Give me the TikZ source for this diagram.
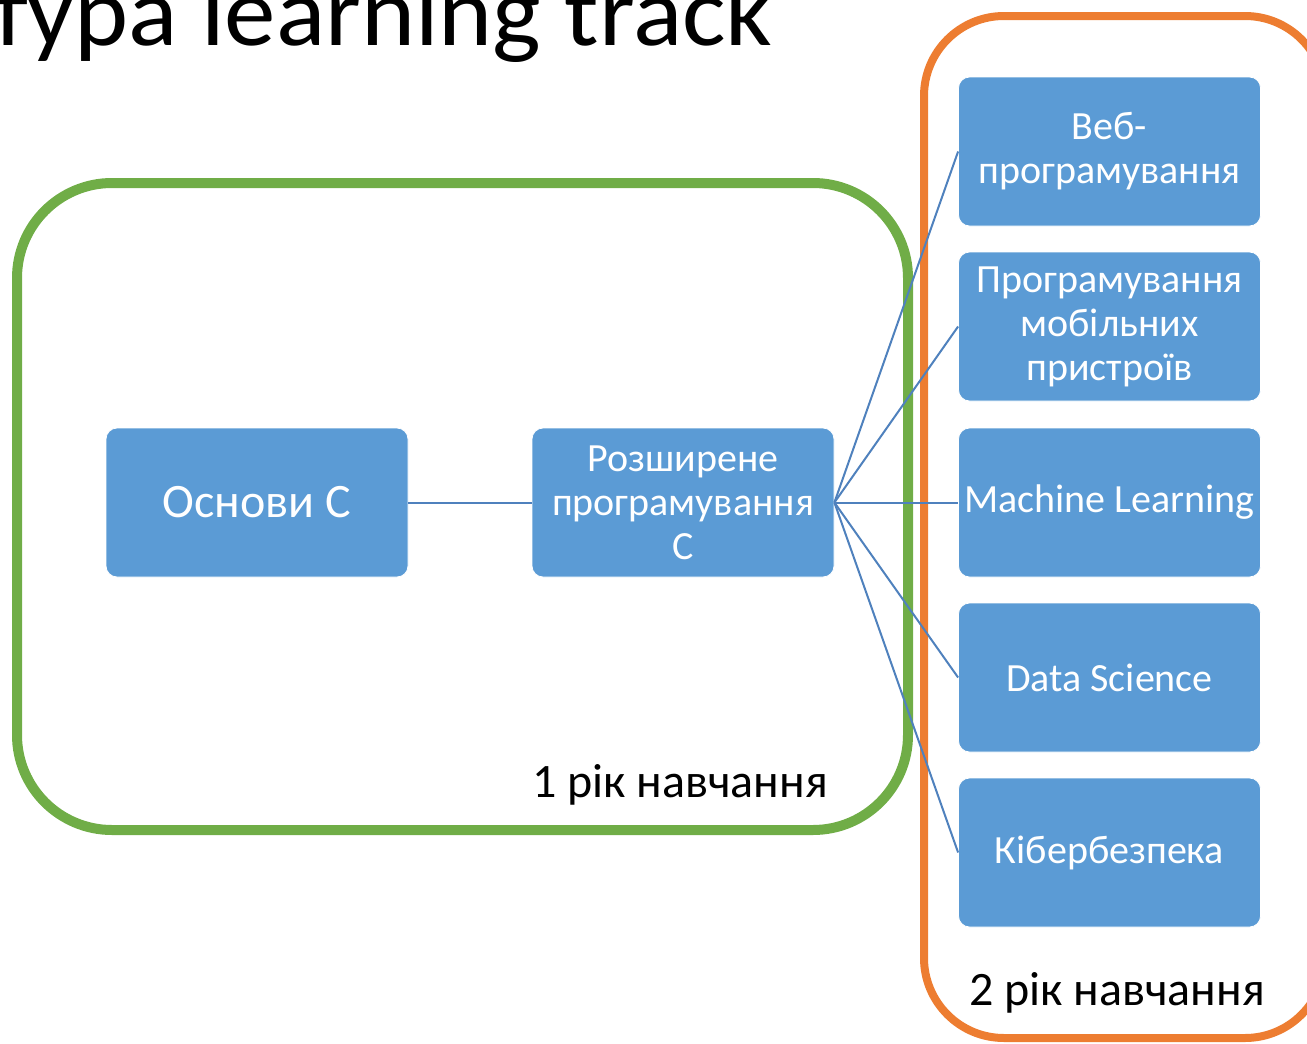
\documentclass[tikz,border=0pt]{standalone}
\usepackage{fontspec}
\setmainfont{Carlito}
\definecolor{boxblue}{RGB}{91,155,213}
\definecolor{connblue}{RGB}{79,129,189}
\definecolor{grn}{RGB}{112,173,71}
\definecolor{org}{RGB}{237,125,49}
\tikzset{
  stepbox/.style={rectangle, rounded corners=11pt, fill=boxblue, draw=white, line width=0.8pt,
    minimum width=302pt, minimum height=149pt, inner sep=0pt, text=white, align=center,
    font=\fontsize{40}{44}\selectfont},
  conn/.style={draw=connblue, line width=2pt},
  lbl/.style={anchor=base east, inner sep=0pt, font=\fontsize{48}{52}\selectfont, text=black}
}
\begin{document}
\begin{tikzpicture}[x=1pt,y=-1pt]
\useasboundingbox (0,0) rectangle (1307,1044);
\node[anchor=base east, inner sep=0pt, xscale=1.04, font=\fontsize{99}{104}\selectfont] (title) at (773,45) {тура learning track};
\draw[grn, line width=10pt, rounded corners=95pt] (17,183) rectangle (908,830);
\draw[org, line width=8pt, rounded corners=80pt] (924,16) rectangle (1325,1038);
\node[stepbox, font=\fontsize{48}{52}\selectfont] (osn) at (257,502.5) {Основи C};
\node[stepbox] (roz) at (683,502.5) {Розширене\\програмування\\C};
\node[stepbox] (web) at (1109.5,151.5) {Веб-\\програмування};
\node[stepbox] (mob) at (1109.5,326.5) {Програмування\\мобільних\\пристроїв};
\node[stepbox] (ml) at (1109.5,502.5) {Machine Learning};
\node[stepbox] (ds) at (1109.5,677.5) {Data Science};
\node[stepbox] (cyb) at (1109.5,852.5) {Кібербезпека};
\draw[conn] (osn.east) -- (roz.west);
\foreach \t in {web,mob,ml,ds,cyb} {\draw[conn] (roz.east) -- (\t.west);}
\node[lbl] (y1) at (828,797) {1 рік навчання};
\node[lbl] (y2) at (1265,1005) {2 рік навчання};
\end{tikzpicture}
\end{document}
